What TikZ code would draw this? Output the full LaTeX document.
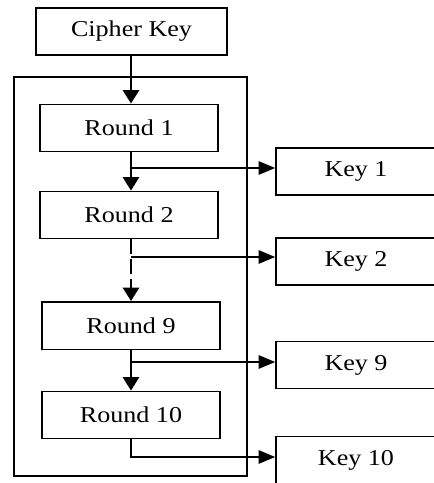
\documentclass[tikz,border=0pt]{standalone}
\usepackage{fontspec}
\setmainfont{Liberation Serif}[FakeStretch=1.15]
\usetikzlibrary{arrows.meta}
\begin{document}
\begin{tikzpicture}[x=0.75pt,y=-0.75pt,
  box/.style={draw,line width=1.1pt,inner sep=0pt,font=\fontsize{17}{19}\selectfont},
  roundbox/.style={box,minimum width=133.5pt,minimum height=35.6pt},
  keybox/.style={box,minimum width=120pt,minimum height=35.25pt},
  varr/.style={line width=1.9pt,-{Triangle[length=10pt,width=12pt]}},
  harr/.style={line width=1.4pt,-{Triangle[length=12.5pt,width=10pt]}}]
\useasboundingbox (0,0) rectangle (433,483);
\node[draw,line width=1.1pt,minimum width=174.75pt,minimum height=299.25pt,inner sep=0pt] (frame) at (130.5,276.5) {};
\node[box,minimum width=143.25pt,minimum height=35.25pt] (ck) at (131.5,31.5) {Cipher Key};
\node[roundbox] (r1) at (129,128) {Round 1};
\node[roundbox] (r2) at (129,215) {Round 2};
\node[roundbox] (r9) at (131,325.5) {Round 9};
\node[roundbox] (r10) at (131,415) {Round 10};
\node[keybox] (k1) at (356,171.5) {Key 1};
\node[keybox] (k2) at (356,261.5) {Key 2};
\node[keybox] (k9) at (356,365) {Key 9};
\node[keybox] (k10) at (356,460) {Key 10};
\coordinate (b1) at (131,168);
\coordinate (b2) at (131,257);
\coordinate (b9) at (131,362);
\coordinate (b10) at (131,457);
\draw[varr] (b1 |- ck.south) -- (b1 |- r1.north);
\draw[varr] (b1 |- r1.south) -- (b1 |- r2.north);
\draw[varr,dash pattern=on 11pt off 4pt] (b1 |- r2.south) -- (b1 |- r9.north);
\draw[varr] (b1 |- r9.south) -- (b1 |- r10.north);
\draw[harr] (b1) -- (b1 -| k1.west);
\draw[harr] (b2) -- (b2 -| k2.west);
\draw[harr] (b9) -- (b9 -| k9.west);
\draw[harr] (b10 |- r10.south) -- (b10) -- (b10 -| k10.west);
\end{tikzpicture}
\end{document}
